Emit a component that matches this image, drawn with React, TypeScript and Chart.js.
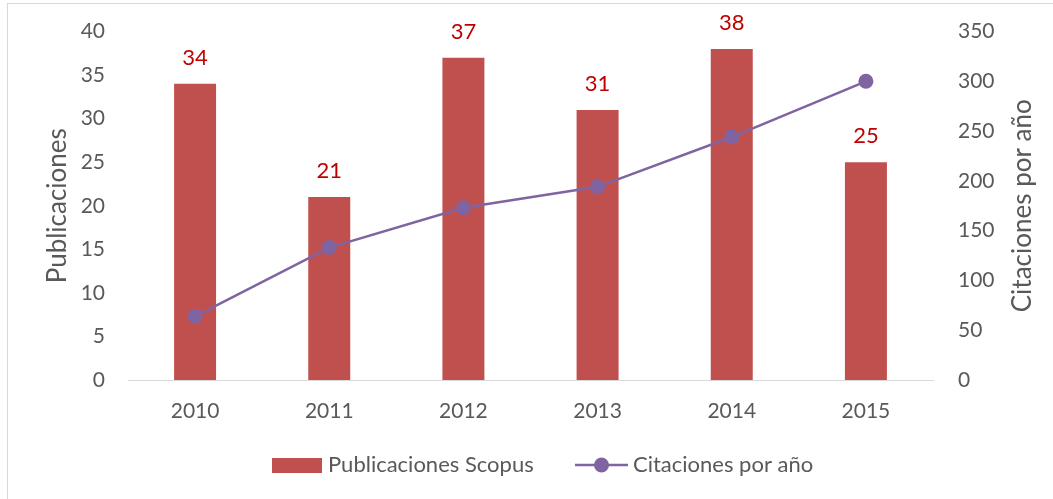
import React, { useEffect, useRef } from "react";
import { Chart, registerables } from "chart.js";

Chart.register(...registerables);

const years = ["2010", "2011", "2012", "2013", "2014", "2015"];
const publicaciones = [34, 21, 37, 31, 38, 25];
const citaciones = [64, 133, 173, 194, 244, 300];

const FONT = "Lato";
const GREY = "#595959";
const BAR = "#C0504D";
const LINE = "#8064A2";

const framePlugin = {
  id: "frame",
  beforeDraw(chart: any) {
    const ctx = chart.ctx;
    ctx.save();
    ctx.strokeStyle = "#D9D9D9";
    ctx.lineWidth = 1;
    ctx.strokeRect(7.5, 3.5, 1200, 700);
    ctx.restore();
  },
};

const labelsPlugin = {
  id: "barLabels",
  afterDatasetsDraw(chart: any) {
    const ctx = chart.ctx;
    const meta = chart.getDatasetMeta(0);
    ctx.save();
    ctx.font = `22px ${FONT}`;
    ctx.fillStyle = "#C00000";
    ctx.textAlign = "center";
    ctx.textBaseline = "middle";
    meta.data.forEach((el: any, i: number) => {
      ctx.fillText(String(chart.data.datasets[0].data[i]), el.x, el.y - 26);
    });
    ctx.restore();
  },
};

const extrasPlugin = {
  id: "extras",
  afterDraw(chart: any) {
    const ctx = chart.ctx;
    const area = chart.chartArea;
    ctx.save();
    // right axis title (reads bottom to top)
    ctx.font = `26px ${FONT}`;
    ctx.fillStyle = GREY;
    ctx.textAlign = "center";
    ctx.textBaseline = "middle";
    ctx.translate(1023, (area.top + area.bottom) / 2);
    ctx.rotate(-Math.PI / 2);
    ctx.fillText("Citaciones por año", 0, 0);
    ctx.restore();

    // legend
    ctx.save();
    const ly = 465;
    ctx.fillStyle = BAR;
    ctx.fillRect(272, ly - 7, 50, 15);
    ctx.font = `22px ${FONT}`;
    ctx.fillStyle = GREY;
    ctx.textAlign = "left";
    ctx.textBaseline = "middle";
    ctx.fillText(chart.data.datasets[0].label, 328, ly);
    ctx.strokeStyle = LINE;
    ctx.lineWidth = 2.5;
    ctx.beginPath();
    ctx.moveTo(575, ly);
    ctx.lineTo(628, ly);
    ctx.stroke();
    ctx.fillStyle = LINE;
    ctx.beginPath();
    ctx.arc(601.5, ly, 7.5, 0, Math.PI * 2);
    ctx.fill();
    ctx.fillStyle = GREY;
    ctx.fillText(chart.data.datasets[1].label, 633, ly);
    ctx.restore();
  },
};

function fixVertical(width: number) {
  return (s: any) => {
    s.width = width;
    s.paddingTop = 0;
    s.paddingBottom = 0;
  };
}

export default function App() {
  const ref = useRef<HTMLCanvasElement | null>(null);
  useEffect(() => {
    if (!ref.current) return;
    const chart = new Chart(ref.current, {
      type: "bar",
      data: {
        labels: years,
        datasets: [
          {
            type: "bar",
            label: "Publicaciones Scopus",
            data: publicaciones,
            backgroundColor: BAR,
            yAxisID: "y",
            order: 1,
            categoryPercentage: 1,
            barPercentage: 0.313,
          },
          {
            type: "line",
            label: "Citaciones por año",
            data: citaciones,
            borderColor: LINE,
            backgroundColor: LINE,
            borderWidth: 2.5,
            pointRadius: 7.5,
            pointBorderWidth: 0,
            pointBackgroundColor: LINE,
            tension: 0,
            yAxisID: "y1",
            order: 0,
          },
        ] as any,
      },
      options: {
        animation: false,
        responsive: true,
        maintainAspectRatio: false,
        layout: { padding: { top: 31.5, bottom: 69, left: 0, right: 0 } },
        plugins: {
          legend: { display: false },
          tooltip: { enabled: false },
          title: { display: false },
        },
        scales: {
          x: {
            grid: { display: false, drawTicks: false },
            border: { display: true, color: "#D9D9D9", width: 1 },
            ticks: { color: GREY, font: { family: FONT, size: 21 }, padding: 19 },
            afterFit(s: any) {
              s.height = 50;
              s.paddingLeft = 0;
              s.paddingRight = 0;
            },
          },
          y: {
            position: "left",
            min: 0,
            max: 40,
            grid: { display: false, drawTicks: false },
            border: { display: false },
            ticks: { stepSize: 5, color: GREY, font: { family: FONT, size: 21 }, padding: 23 },
            title: {
              display: true,
              text: "Publicaciones",
              color: GREY,
              font: { family: FONT, size: 26, weight: "normal" },
              padding: { top: 42, bottom: 0 },
            },
            afterFit: fixVertical(128),
          },
          y1: {
            position: "right",
            min: 0,
            max: 350,
            grid: { display: false, drawTicks: false },
            border: { display: false },
            ticks: { stepSize: 50, color: GREY, font: { family: FONT, size: 21 }, padding: 25 },
            afterFit: fixVertical(120),
          },
        },
      } as any,
      plugins: [framePlugin, labelsPlugin, extrasPlugin],
    });
    return () => chart.destroy();
  }, []);
  return (
    <div style={{ position: "fixed", left: 0, top: 0, width: 1053, height: 499, background: "#fff" }}>
      <canvas ref={ref} />
    </div>
  );
}
